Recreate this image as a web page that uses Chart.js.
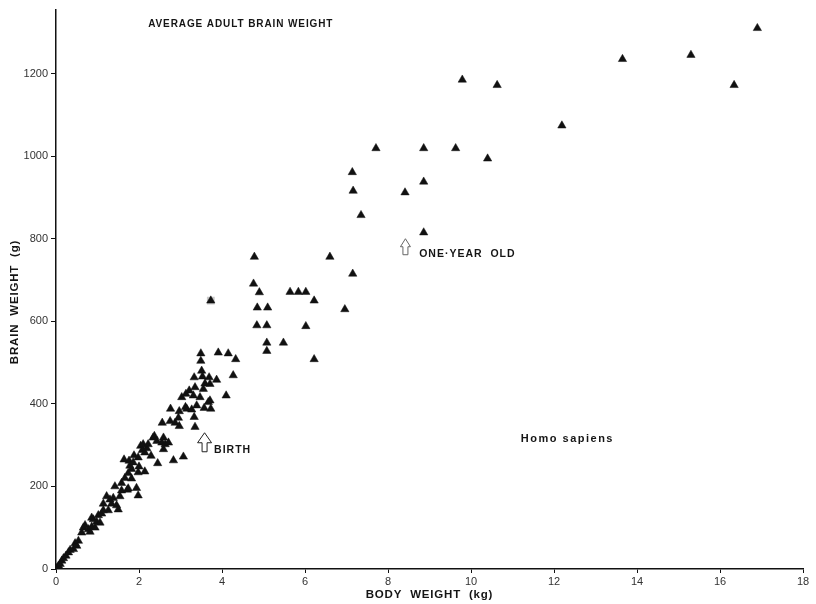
<!DOCTYPE html>
<html>
<head>
<meta charset="utf-8">
<script src="https://cdn.jsdelivr.net/npm/chart.js@4.4.1/dist/chart.umd.min.js"></script>
<style>
  html, body { margin: 0; padding: 0; background: #fff; }
  #wrap { width: 816px; height: 604px; }
</style>
</head>
<body>
<div id="wrap"><canvas id="c" width="816" height="604"></canvas></div>
<script>
// ---- Data (body weight in kg, brain weight in g) ----
const infantBodyKg = [0.02,0.06,0.1,0.14,0.18,0.24,0.3,0.34,0.42,0.46,0.5,0.54,0.62,0.66,0.7,0.78,0.82,0.86,0.86,0.9,0.94,0.98,1.02,1.06,
  1.1,1.14,1.14,1.22,1.26,1.3,1.34,1.38,1.42,1.46,1.5,1.54,1.58,1.58,1.64,1.66,1.72,1.74,1.74,1.76,1.78,1.82,1.82,1.86,1.88,1.94,1.98,1.98,1.98,
  2.0,2.04,2.08,2.1,2.14,2.14,2.19,2.22,2.29,2.34,2.37,2.43,2.45,2.55,2.56,2.59,2.59,2.63,2.71,2.75,2.76,2.83,2.87,2.95,2.97,2.97,3.07,
  3.03,3.12,3.13,3.15,3.21,3.27,3.31,3.33,3.35,3.35,3.39,3.33,3.47,3.49,3.49,3.51,3.53,3.55,3.57,3.59,3.67,3.69,3.71,3.71,3.73,3.87,3.91,4.1,4.15,4.27,4.33];
const infantBrainG = [2,8,12,20,26,32,40,46,48,62,56,68,88,100,106,96,90,102,124,120,100,114,130,112,
  134,142,158,176,142,168,158,172,200,154,144,176,190,208,265,220,192,195,232,262,250,219,242,258,275,196,178,234,270,
  248,298,288,302,236,282,292,302,274,318,322,310,256,306,354,290,318,302,306,358,388,263,354,366,382,346,272,
  416,392,424,388,432,386,420,368,440,344,396,464,416,504,522,480,466,436,390,449,404,464,448,408,388,458,524,420,522,469,508];
const childBodyKg = [4.78,4.76,4.9,4.85,5.1,4.84,5.08,5.08,5.08,5.48,5.64,5.84,6.02,6.22,6.02,6.22,6.6,6.96,7.15];
const childBrainG = [756,691,670,633,633,590,590,548,528,548,671,671,671,650,588,508,756,629,715];
const olderBodyKg = [7.14,7.16,7.35,7.71,8.41,8.86,8.86,8.86,9.63,9.79,10.4,10.63,12.19,13.65,15.3,16.34,16.9];
const olderBrainG = [961,916,857,1019,912,1019,938,815,1019,1185,994,1172,1074,1235,1245,1172,1310];
const markedBodyKg = [3.73];
const markedBrainG = [650];

const xTickValues = [0,2,4,6,8,10,12,14,16,18];
const yTickValues = [0,200,400,600,800,1000,1200];

const chartTitle = 'AVERAGE ADULT BRAIN WEIGHT';
const xAxisTitle = 'BODY  WEIGHT  (kg)';
const yAxisTitle = 'BRAIN  WEIGHT  (g)';
const speciesLabel = 'Homo sapiens';
const birthLabel = 'BIRTH';
const yearLabel = 'ONE·YEAR  OLD';

// ---- helpers ----
function pts(xs, ys) { return xs.map((x, i) => ({ x: x, y: ys[i] })); }

const FONT = '"Liberation Sans", Arial, sans-serif';
const INK = '#111';

function hollowUpArrow(ctx, x, yTip, headW, headH, stemW, stemH) {
  ctx.beginPath();
  ctx.moveTo(x, yTip);
  ctx.lineTo(x + headW / 2, yTip + headH);
  ctx.lineTo(x + stemW / 2, yTip + headH);
  ctx.lineTo(x + stemW / 2, yTip + headH + stemH);
  ctx.lineTo(x - stemW / 2, yTip + headH + stemH);
  ctx.lineTo(x - stemW / 2, yTip + headH);
  ctx.lineTo(x - headW / 2, yTip + headH);
  ctx.closePath();
  ctx.stroke();
}

function spacedText(ctx, text, x, y, font, spacing) {
  ctx.font = font;
  ctx.letterSpacing = spacing;
  ctx.fillText(text, x, y);
}

const annotationPlugin = {
  id: 'annotations',
  afterDraw(chart) {
    const { ctx, scales: { x, y }, chartArea } = chart;
    ctx.save();
    ctx.fillStyle = '#151515';
    ctx.textBaseline = 'middle';
    ctx.textAlign = 'left';

    spacedText(ctx, chartTitle, x.getPixelForValue(2.22), y.getPixelForValue(1320), 'bold 10px ' + FONT, '0.9px');
    spacedText(ctx, birthLabel, x.getPixelForValue(3.81), y.getPixelForValue(289), 'bold 10.5px ' + FONT, '1px');
    spacedText(ctx, yearLabel, x.getPixelForValue(8.75), y.getPixelForValue(762), 'bold 10.5px ' + FONT, '1px');
    spacedText(ctx, speciesLabel, x.getPixelForValue(11.2), y.getPixelForValue(316), 'bold 11px ' + FONT, '1.5px');

    // axis titles
    ctx.textAlign = 'center';
    spacedText(ctx, xAxisTitle, (chartArea.left + chartArea.right) / 2, 595, 'bold 11.5px ' + FONT, '0.8px');
    ctx.save();
    ctx.translate(15, 302);
    ctx.rotate(-Math.PI / 2);
    spacedText(ctx, yAxisTitle, 0, 0, 'bold 11.5px ' + FONT, '0.8px');
    ctx.restore();

    ctx.letterSpacing = '0px';
    ctx.strokeStyle = '#222';
    ctx.lineWidth = 1;
    hollowUpArrow(ctx, x.getPixelForValue(3.58), y.getPixelForValue(330), 14, 10, 5, 9);
    ctx.strokeStyle = '#666';
    hollowUpArrow(ctx, x.getPixelForValue(8.42), y.getPixelForValue(800), 10, 8, 5, 8);
    ctx.restore();
  }
};

const tri = { pointStyle: 'triangle', pointRadius: 4.8, pointHoverRadius: 4.8,
  backgroundColor: INK, borderColor: INK, borderWidth: 0.5, showLine: false };

new Chart(document.getElementById('c'), {
  type: 'scatter',
  data: {
    datasets: [
      Object.assign({ label: 'infants', data: pts(infantBodyKg, infantBrainG), order: 1 }, tri),
      Object.assign({ label: 'children', data: pts(childBodyKg, childBrainG), order: 1 }, tri),
      Object.assign({ label: 'older', data: pts(olderBodyKg, olderBrainG), order: 1 }, tri),
      Object.assign({ label: 'marked', data: pts(markedBodyKg, markedBrainG), order: 1 }, tri),
      { label: 'marked-box', data: pts(markedBodyKg, markedBrainG), order: 2, pointStyle: 'rect',
        pointRadius: 5.5, backgroundColor: '#c8c8c8', borderColor: '#c8c8c8', borderWidth: 0 }
    ]
  },
  options: {
    responsive: false,
    animation: false,
    devicePixelRatio: 1,
    layout: { padding: { top: 6, right: 13, left: 0, bottom: 0 } },
    plugins: { legend: { display: false }, tooltip: { enabled: false }, title: { display: false } },
    scales: {
      x: {
        type: 'linear', min: 0, max: 18,
        afterFit(s) { s.height = 35; },
        afterBuildTicks(s) { s.ticks = xTickValues.map(v => ({ value: v })); },
        grid: { drawOnChartArea: false, drawTicks: true, tickLength: 4, color: '#111', lineWidth: 1 },
        border: { display: true, color: '#111', width: 1.5 },
        ticks: { color: '#333', font: { family: FONT, size: 11 }, padding: 2, maxRotation: 0, autoSkip: false,
                 callback: v => String(v) },
        title: { display: false }
      },
      y: {
        type: 'linear', min: 0, max: 1355,
        afterFit(s) { s.width = 56; },
        afterBuildTicks(s) { s.ticks = yTickValues.map(v => ({ value: v })); },
        grid: { drawOnChartArea: false, drawTicks: true, tickLength: 5, color: '#111', lineWidth: 1 },
        border: { display: true, color: '#111', width: 1.5 },
        ticks: { color: '#333', font: { family: FONT, size: 11 }, padding: 3, autoSkip: false,
                 callback: v => String(v) },
        title: { display: false }
      }
    }
  },
  plugins: [annotationPlugin]
});
</script>
</body>
</html>
